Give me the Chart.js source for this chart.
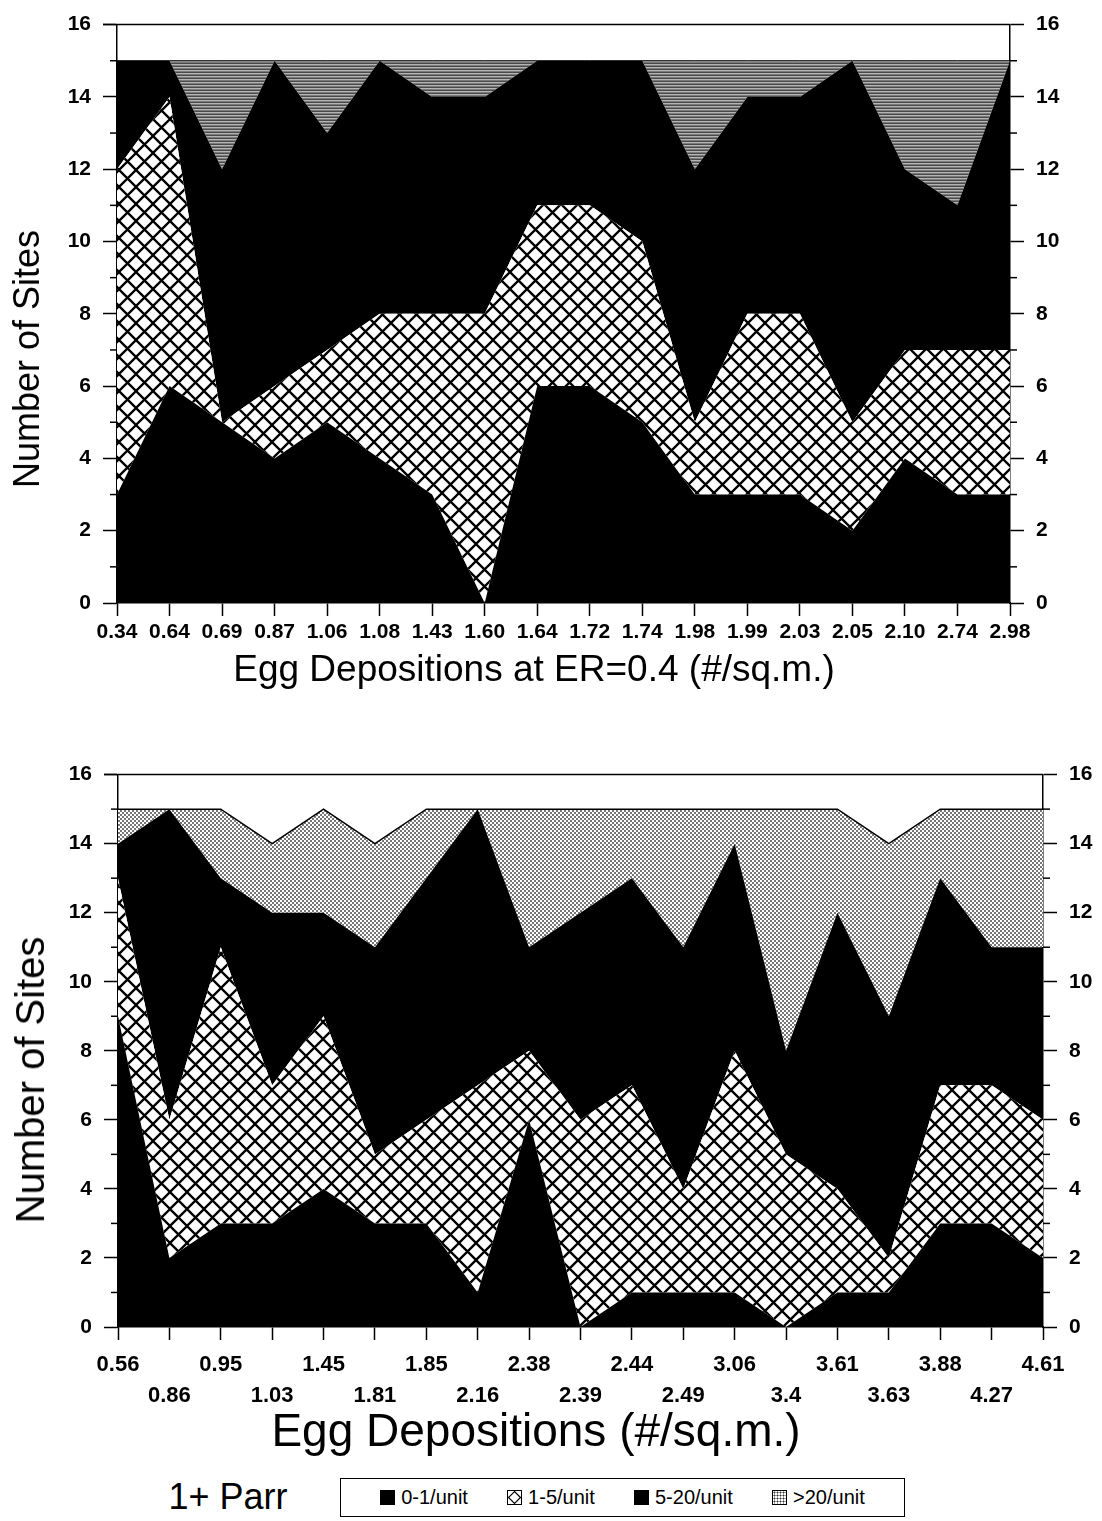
<!DOCTYPE html>
<html>
<head>
<meta charset="utf-8">
<script src="https://cdn.jsdelivr.net/npm/chart.js@4.4.0/dist/chart.umd.min.js"></script>
<style>
  body { margin: 0; background: #fff; width: 1102px; height: 1521px; position: relative; overflow: hidden;
         font-family: "Liberation Sans", Arial, sans-serif; color: #000; }
  canvas { position: absolute; left: 0; }
  #topChart { top: 0; }
  #bottomChart { top: 750px; }
  .title { position: absolute; white-space: nowrap; transform: translate(-50%, -50%); line-height: 1; }
  .ytitle { transform: translate(-50%, -50%) rotate(-90deg); }
  #legend { position: absolute; left: 340px; top: 1478px; width: 563px; height: 37px; border: 1.5px solid #000;
            display: flex; align-items: center; justify-content: space-evenly; font-size: 20px; }
  #legend span.item { display: flex; align-items: center; }
  .sw { display: inline-block; width: 15px; height: 15px; margin-right: 6px; box-sizing: border-box; }
  .sw.black { background: #000; }
  .sw.dots { border: 1px solid #000; background: #fff radial-gradient(#333 0.9px, transparent 1.1px) 0 0 / 3px 3px; }
</style>
</head>
<body>
<canvas id="topChart" width="1102" height="650"></canvas>
<canvas id="bottomChart" width="1102" height="660"></canvas>

<div class="title ytitle" style="left:27px; top:359px; font-size:36px;">Number of Sites</div>
<div class="title" style="left:534px; top:668px; font-size:37px;">Egg Depositions at ER=0.4 (#/sq.m.)</div>
<div class="title ytitle" style="left:30px; top:1080px; font-size:40px;">Number of Sites</div>
<div class="title" style="left:536px; top:1430px; font-size:46px;">Egg Depositions (#/sq.m.)</div>
<div class="title" style="left:228px; top:1497px; font-size:36px;">1+ Parr</div>
<div id="legend">
  <span class="item"><span class="sw black"></span>0-1/unit</span>
  <span class="item"><svg class="sw" viewBox="0 0 15 15"><rect x="0.5" y="0.5" width="14" height="14" fill="#fff" stroke="#000"/><path d="M7.5 1.5 L13.5 7.5 L7.5 13.5 L1.5 7.5 Z" fill="none" stroke="#000" stroke-width="1.2"/></svg>1-5/unit</span>
  <span class="item"><span class="sw black"></span>5-20/unit</span>
  <span class="item"><span class="sw dots"></span>&gt;20/unit</span>
</div>

<script>
// --- データ（上: ER=0.4, 下: 実測） ---
const topLabels = ['0.34','0.64','0.69','0.87','1.06','1.08','1.43','1.60','1.64','1.72','1.74','1.98','1.99','2.03','2.05','2.10','2.74','2.98'];
const topUnit01  = [3, 6, 5, 4, 5, 4, 3, 0, 6, 6, 5, 3, 3, 3, 2, 4, 3, 3];
const topUnit15  = [9, 8, 0, 2, 2, 4, 5, 8, 5, 5, 5, 2, 5, 5, 3, 3, 4, 4];
const topUnit520 = [3, 1, 7, 9, 6, 7, 6, 6, 4, 4, 5, 7, 6, 6, 10, 5, 4, 8];
const topUnit20  = [0, 0, 3, 0, 2, 0, 1, 1, 0, 0, 0, 3, 1, 1, 0, 3, 4, 0];

const bottomLabels = ['0.56','0.86','0.95','1.03','1.45','1.81','1.85','2.16','2.38','2.39','2.44','2.49','3.06','3.4','3.61','3.63','3.88','4.27','4.61'];
const bottomUnit01  = [9, 2, 3, 3, 4, 3, 3, 1, 6, 0, 1, 1, 1, 0, 1, 1, 3, 3, 2];
const bottomUnit15  = [4, 4, 8, 4, 5, 2, 3, 6, 2, 6, 6, 3, 7, 5, 3, 1, 4, 4, 4];
const bottomUnit520 = [1, 9, 2, 5, 3, 6, 7, 8, 3, 6, 6, 7, 6, 3, 8, 7, 6, 4, 5];
const bottomUnit20  = [1, 0, 2, 2, 3, 3, 2, 0, 4, 3, 2, 4, 1, 7, 3, 5, 2, 4, 4];

const yTicks = { min: 0, max: 16 };
const FONT = '"Liberation Sans", Arial, sans-serif';

// --- 塗りパターン ---
function makeCrossHatch() {
    const c = document.createElement('canvas');
    c.width = 17; c.height = 17;
    const g = c.getContext('2d');
    g.fillStyle = '#fff';
    g.fillRect(0, 0, 17, 17);
    g.strokeStyle = '#000';
    g.lineWidth = 2.3;
    g.beginPath();
    for (const o of [-17, 0, 17]) {
        g.moveTo(o, 0); g.lineTo(o + 17, 17);
        g.moveTo(o + 17, 0); g.lineTo(o, 17);
    }
    g.stroke();
    return g.createPattern(c, 'repeat');
}

function makeStripes() {
    const c = document.createElement('canvas');
    c.width = 4; c.height = 3;
    const g = c.getContext('2d');
    g.fillStyle = '#4a4a4a'; g.fillRect(0, 0, 4, 1);
    g.fillStyle = '#b4b4b4'; g.fillRect(0, 1, 4, 1);
    g.fillStyle = '#7a7a7a'; g.fillRect(0, 2, 4, 1);
    return g.createPattern(c, 'repeat');
}

function makeDots() {
    const c = document.createElement('canvas');
    c.width = 4; c.height = 4;
    const g = c.getContext('2d');
    g.fillStyle = '#fff'; g.fillRect(0, 0, 4, 4);
    g.fillStyle = '#777';
    g.fillRect(0, 0, 2, 2);
    g.fillRect(2, 2, 2, 2);
    return g.createPattern(c, 'repeat');
}

const hatch = makeCrossHatch();

function buildDatasets(s01, s15, s520, s20, greyFill, greyBorder) {
    const base = { borderColor: 'rgba(0,0,0,0)', borderWidth: 1, pointRadius: 0, tension: 0 };
    return [
        { label: '0-1/unit',  data: s01,  backgroundColor: '#000', fill: 'origin' },
        { label: '1-5/unit',  data: s15,  backgroundColor: hatch,  fill: '-1' },
        { label: '5-20/unit', data: s520, backgroundColor: '#000', fill: '-1' },
        { label: '>20/unit',  data: s20,  backgroundColor: greyFill, fill: '-1', borderColor: '#000', borderWidth: greyBorder }
    ].map(d => Object.assign({}, base, d));
}

// 奇数目盛りは短いティック、上辺の枠線
const frameAndMinorTicks = {
    id: 'frameAndMinorTicks',
    afterDraw(chart) {
        const ctx = chart.ctx;
        ctx.save();
        ctx.strokeStyle = '#000';
        ctx.lineWidth = 1.5;
        ['y', 'y2'].forEach(id => {
            const s = chart.scales[id];
            s.ticks.forEach(t => {
                if (t.value % 2 === 0) return;
                const py = s.getPixelForValue(t.value);
                ctx.beginPath();
                if (s.position === 'left') { ctx.moveTo(s.right - 7, py); ctx.lineTo(s.right, py); }
                else { ctx.moveTo(s.left, py); ctx.lineTo(s.left + 7, py); }
                ctx.stroke();
            });
        });
        const a = chart.chartArea;
        ctx.beginPath();
        ctx.moveTo(a.left - 14, a.top);
        ctx.lineTo(a.right, a.top);
        ctx.stroke();
        ctx.restore();
    }
};

function yAxis(position, width, stacked) {
    return {
        position: position,
        min: yTicks.min,
        max: yTicks.max,
        stacked: stacked,
        afterFit: s => { s.width = width; },
        border: { color: '#000', width: 1.5 },
        grid: {
            drawOnChartArea: false,
            tickLength: 14,
            tickWidth: 1.5,
            tickColor: c => (c.tick && c.tick.value % 2) ? 'rgba(0,0,0,0)' : '#000'
        },
        ticks: {
            stepSize: 1,
            padding: 12,
            color: '#000',
            font: { family: FONT, size: 21, weight: 'bold' },
            callback: v => (v % 2 ? '' : v)
        }
    };
}

function drawChart(canvasId, labels, datasets, opts) {
    return new Chart(document.getElementById(canvasId), {
        type: 'line',
        data: { labels: labels, datasets: datasets },
        options: {
            responsive: false,
            animation: false,
            devicePixelRatio: 1,
            layout: { padding: { top: opts.padTop, left: 0, right: 0, bottom: 0 } },
            plugins: { legend: { display: false }, tooltip: { enabled: false } },
            scales: {
                x: {
                    offset: false,
                    afterFit: s => { s.height = opts.xHeight; },
                    border: { color: '#000', width: 1.5 },
                    grid: { drawOnChartArea: false, offset: false, tickLength: 13, tickWidth: 1.5, tickColor: '#000' },
                    ticks: {
                        autoSkip: false,
                        maxRotation: 0,
                        minRotation: 0,
                        padding: opts.labelPad,
                        color: '#000',
                        font: { family: FONT, size: opts.labelSize, weight: 'bold', lineHeight: opts.lineHeight },
                        callback: opts.labelCallback
                    }
                },
                y: yAxis('left', opts.leftWidth, true),
                y2: yAxis('right', opts.rightWidth, false)
            }
        },
        plugins: [frameAndMinorTicks]
    });
}

drawChart('topChart', topLabels,
    buildDatasets(topUnit01, topUnit15, topUnit520, topUnit20, makeStripes(), 1),
    {
        padTop: 16, xHeight: 47, leftWidth: 117, rightWidth: 92,
        labelPad: 4, labelSize: 21, lineHeight: 1.2,
        labelCallback: (v, i) => topLabels[i]
    });

// 下段は2段組みのラベル（偶数:上段、奇数:下段）
drawChart('bottomChart', bottomLabels,
    buildDatasets(bottomUnit01, bottomUnit15, bottomUnit520, bottomUnit20, makeDots(), 1.5),
    {
        padTop: 23, xHeight: 83, leftWidth: 118, rightWidth: 59,
        labelPad: 9, labelSize: 22, lineHeight: 1.43,
        labelCallback: (v, i) => (i % 2 === 0 ? [bottomLabels[i], ''] : ['', bottomLabels[i]])
    });
</script>
</body>
</html>
